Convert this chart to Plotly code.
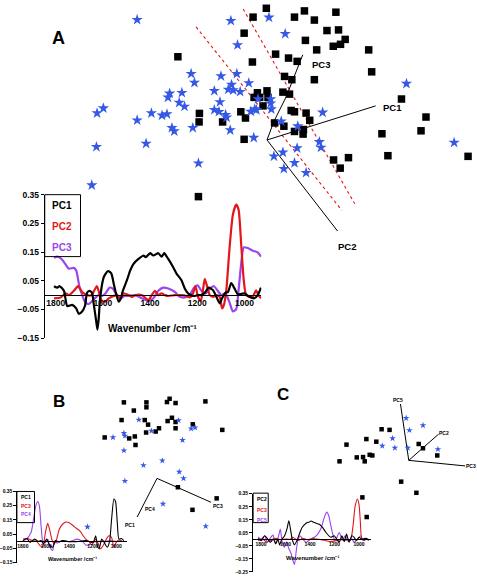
import plotly.graph_objects as go

W, H = 477, 581

# ---------------- Panel A scores (arbitrary PC units) ----------------
a_star_x = [-3.92,-1.09,0.06,0.55,-0.89,-2.29,-2.19,-1.39,-0.91,-0.55,-1.07,-1.17,-1.02,-0.81,-1.59,-2.94,-2.99,-2.57,-2.65,-2.49,
            -4.94,-5.13,-3.49,-3.17,-3.02,-3.92,-1.42,-1.59,-1.45,-1.25,-1.22,-2.87,-2.80,-2.24,-1.11,-0.37,-0.49,-0.32,0.11,0.13,
            0.11,0.43,0.93,1.68,4.21,-5.15,-3.65,-0.40,0.91,0.48,0.21,0.83,0.51,1.18,1.58,1.63,5.65,-2.07,-5.29,-0.27]
a_star_y = [3.67,3.64,3.74,3.24,2.90,2.02,1.75,1.95,2.02,1.74,1.69,1.54,1.52,1.47,1.50,1.42,1.30,1.44,1.14,1.02,
            0.97,0.82,0.82,0.75,0.79,0.60,1.16,0.92,0.86,0.77,0.69,0.37,0.27,0.37,0.30,0.94,0.87,0.92,1.12,0.94,
            1.25,0.57,0.42,0.84,1.72,-0.21,-0.11,0.07,-0.25,-0.38,-0.50,-0.70,-0.88,-1.00,-0.06,-0.23,-0.08,-0.71,-1.38,1.25]
a_sq_x = [-0.02,-0.42,0.83,1.13,1.43,2.08,-0.69,1.81,2.16,2.36,1.16,1.50,2.00,2.22,3.07,-2.69,0.26,0.65,-0.44,0.91,
          3.16,0.53,0.75,1.43,-0.29,0.00,-0.39,-0.22,0.03,-0.12,0.48,0.68,4.06,-2.04,-2.05,-1.34,-0.79,-0.65,0.73,0.83,
          1.18,1.29,0.23,0.51,4.80,0.83,1.10,1.09,4.65,3.47,-0.69,2.01,2.46,2.21,3.65,6.07,-2.07]
a_sq_y = [4.02,3.75,3.75,3.94,3.66,3.90,3.26,3.34,3.36,3.07,3.04,2.75,2.86,2.92,2.75,2.54,2.62,2.50,2.38,2.40,
          2.08,1.94,1.84,1.84,1.44,1.50,1.30,1.30,1.30,1.04,1.46,1.40,1.25,0.81,0.55,0.55,0.86,0.67,0.90,0.86,
          0.82,0.60,0.52,0.42,0.70,0.26,0.32,0.18,0.28,0.19,0.02,-0.61,-0.54,-0.86,-0.48,-0.50,-1.73]
a_pc1_axis = ([0, 3.28], [0, 1.04])
a_pc2_axis = ([0, 2.13], [0, -2.78])
a_pc3_axis = ([0, 0.21, 0.58, 1.08], [0, 0.57, 1.32, 2.60])
a_div1 = ([-2.14, 2.26], [3.45, -2.15])
a_div2 = ([-0.72, 2.65], [4.00, -1.95])

# ---------------- Panel A loadings ----------------
a_pc1_wn = [1807,1793,1783,1765,1751,1730,1713,1702,1688,1676,1667,1657,1646,1639,1629,1623,1618,1611,1596,1578,
            1564,1554,1545,1533,1522,1517,1498,1484,1470,1449,1428,1418,1400,1386,1365,1351,1340,1323,1302,1288,
            1267,1253,1239,1218,1196,1182,1168,1152,1133,1119,1105,1095,1081,1070,1056,1042,1028,1000,979,958,944,930]
a_pc1_val = [0.031,0.026,0.031,0.015,-0.038,-0.034,-0.046,-0.065,-0.057,-0.038,0.008,0.015,0.008,-0.029,-0.086,
             -0.120,-0.086,-0.006,0.063,0.084,0.075,0.040,0.008,-0.023,-0.008,0.011,0.052,0.086,0.109,0.126,
             0.138,0.132,0.146,0.138,0.146,0.134,0.146,0.126,0.097,0.075,0.052,0.023,0.006,-0.003,0.000,
             0.000,0.008,0.026,0.017,-0.006,-0.029,-0.011,0.008,0.011,0.042,0.023,0.003,0.006,-0.006,-0.011,0.000,0.026]
a_pc2_wn = [1807,1779,1758,1744,1723,1705,1688,1667,1648,1632,1625,1615,1604,1589,1575,1554,1540,1526,1512,1491,
            1477,1463,1435,1407,1393,1379,1365,1351,1337,1323,1295,1267,1246,1232,1218,1208,1196,1185,1175,1168,
            1157,1147,1133,1119,1105,1095,1087,1077,1063,1049,1035,1025,1014,1003,993,979,965,951,941,930]
a_pc2_val = [-0.011,-0.008,0.006,0.000,0.015,0.031,0.011,0.000,0.000,0.023,0.031,0.006,-0.020,-0.023,-0.011,
             -0.003,0.000,-0.011,0.006,0.000,-0.006,0.000,0.000,-0.017,0.000,0.015,0.000,0.006,0.000,-0.003,
             0.000,0.000,-0.003,-0.008,0.006,0.031,-0.008,-0.020,0.023,0.057,0.026,0.000,-0.006,0.000,-0.006,
             -0.046,-0.034,0.017,0.166,0.281,0.315,0.298,0.178,0.052,0.000,-0.006,-0.006,0.017,0.000,-0.011]
a_pc3_wn = [1807,1793,1775,1758,1744,1723,1713,1699,1685,1674,1660,1648,1634,1618,1604,1589,1572,1558,1545,1526,
            1508,1491,1463,1435,1407,1386,1365,1344,1323,1295,1274,1253,1232,1214,1199,1182,1165,1147,1129,1115,
            1098,1081,1063,1049,1035,1025,1014,1003,986,965,944,930]
a_pc3_val = [0.130,0.134,0.126,0.107,0.092,0.095,0.086,0.029,-0.006,-0.026,-0.031,-0.023,-0.011,0.000,-0.003,
             0.006,0.026,0.023,0.006,-0.011,-0.003,-0.003,0.000,-0.011,-0.020,-0.011,0.015,0.026,0.023,0.011,
             -0.006,-0.008,0.000,0.026,0.034,0.015,0.006,0.023,0.031,0.017,0.000,0.006,-0.026,-0.057,-0.049,
             0.017,0.109,0.166,0.164,0.155,0.149,0.134]

# ---------------- Panel B ----------------
b_sq_x = [-1.00,-0.32,-0.32,0.30,0.38,0.56,1.46,-0.70,-1.07,-0.37,-0.27,0.32,0.45,0.56,0.56,1.08,1.97,0.06,-0.04,-0.33,
          -1.58,-0.84,-0.67,-0.65,0.63,1.80,1.07]
b_sq_y = [2.32,2.32,2.17,2.33,2.43,2.30,2.35,2.07,1.78,1.78,1.64,1.75,1.85,1.72,1.53,1.65,1.48,1.53,1.43,1.40,
          1.25,1.22,1.28,1.02,-0.27,-0.61,-0.96]
b_star_x = [-0.55,0.65,-0.17,1.03,1.15,-1.00,-0.97,-1.33,0.77,-1.00,0.16,-0.41,0.67,0.80,-0.97,0.18,1.47,-2.10]
b_star_y = [1.79,1.77,1.45,1.52,1.55,1.38,1.30,1.25,1.17,0.85,0.54,0.40,0.20,0.00,-0.08,-0.78,-1.46,-1.48]
b_axes_x = [-0.60, 0, 1.63]
b_axes_y = [-1.18, 0, -0.73]

b_pc1_wn = [1800,1766,1738,1700,1670,1644,1624,1596,1573,1545,1522,1490,1460,1400,1340,1260,1198,1176,1162,1147,
            1125,1105,1077,1057,1040,1020,1006,991,977,955,935]
b_pc1_val = [0.005,0.020,-0.007,0.016,0.000,0.005,-0.018,0.016,-0.025,-0.041,0.005,-0.002,0.005,-0.002,-0.002,
             0.005,-0.007,0.039,-0.030,-0.053,0.016,-0.005,-0.041,0.000,0.154,0.297,0.280,0.131,0.016,0.020,0.005]
b_pc3_wn = [1800,1757,1720,1680,1653,1630,1607,1587,1568,1551,1530,1511,1488,1460,1431,1403,1374,1340,1312,1283,
            1261,1232,1210,1190,1176,1153,1134,1105,1085,1062,1040,1020,1000,972,949]
b_pc3_val = [0.016,0.020,0.005,-0.002,-0.030,-0.041,0.062,0.126,0.073,0.011,-0.018,0.016,0.085,0.120,0.136,
             0.131,0.113,0.090,0.073,0.039,0.016,-0.002,-0.025,0.000,0.016,-0.018,-0.053,-0.018,0.016,0.039,
             0.027,-0.041,-0.007,0.011,-0.002]
b_pc4_wn = [1800,1770,1730,1709,1687,1672,1658,1644,1630,1607,1587,1567,1545,1528,1502,1460,1403,1332,1290,1261,
            1232,1210,1180,1150,1100,1050,1000,950]
b_pc4_val = [0.005,0.016,0.062,0.154,0.257,0.280,0.246,0.108,0.005,-0.011,0.016,-0.041,-0.064,-0.007,-0.011,
             0.005,-0.002,0.016,0.000,-0.025,-0.025,-0.002,-0.002,0.000,0.000,0.005,0.000,0.005]

# ---------------- Panel C ----------------
c_sq_x = [-0.82,-0.58,-1.28,-0.98,-1.88,-1.18,-1.10,-1.57,-1.38,-1.33,-2.09,0.30,0.43,0.86,-0.23,0.23,-1.40,-1.27]
c_sq_y = [0.95,0.93,0.65,0.57,0.48,0.17,0.15,0.09,0.10,-0.03,-0.03,0.50,0.37,0.15,-0.65,-0.99,-1.13,-1.73]
c_star_x = [-0.08,0.43,0.02,-0.49,-0.80,-0.42,-0.03,0.88]
c_star_y = [1.29,1.07,0.92,0.67,0.44,0.38,0.38,0.34]
c_pc5_axis = ([0, -0.25], [0, 1.72])
c_pc2_axis = ([0, 0.90], [0, 0.80])
c_pc3_axis = ([0, 1.70], [0, -0.17])

c_pc2_wn = [1824,1798,1771,1750,1725,1700,1681,1662,1649,1630,1608,1589,1573,1560,1546,1527,1508,1487,1465,1432,
            1406,1392,1365,1324,1297,1270,1230,1203,1183,1162,1140,1121,1102,1081,1059,1040,1021,1000,975,951,924]
c_pc2_val = [0.007,-0.011,0.027,0.007,-0.023,0.002,-0.036,0.000,-0.043,0.000,0.027,0.078,0.141,0.078,0.002,
             -0.043,-0.011,0.040,0.090,0.123,0.133,0.140,0.128,0.115,0.090,0.052,0.015,0.027,0.002,-0.023,
             0.027,-0.018,0.040,-0.023,0.027,0.015,-0.011,0.015,0.000,0.007,-0.003]
c_pc3_wn = [1824,1787,1754,1720,1676,1640,1600,1560,1540,1500,1460,1420,1378,1351,1310,1270,1230,1189,1149,1108,
            1068,1049,1032,1013,1000,989,978,959,940,919]
c_pc3_val = [-0.011,0.002,-0.023,-0.005,0.007,-0.003,0.002,0.000,0.015,-0.010,0.007,-0.003,0.007,0.002,-0.003,
             -0.011,-0.018,-0.011,-0.003,-0.008,0.002,0.103,0.254,0.310,0.267,0.128,0.002,-0.010,0.002,-0.011]
c_pc5_wn = [1824,1800,1771,1750,1730,1703,1681,1660,1643,1627,1608,1590,1573,1554,1540,1527,1514,1500,1481,1460,
            1432,1410,1392,1365,1337,1311,1284,1264,1248,1230,1211,1195,1180,1162,1135,1113,1086,1059,1040,1013,
            986,965,940,919]
c_pc5_val = [0.015,0.002,0.027,-0.023,0.002,0.032,-0.028,0.015,0.078,-0.023,-0.061,-0.020,-0.073,-0.111,-0.162,
             -0.194,-0.100,-0.010,0.027,0.002,-0.023,-0.010,0.002,0.015,0.040,0.082,0.166,0.209,0.183,0.103,
             0.027,-0.011,0.015,0.052,-0.005,0.027,-0.018,0.002,-0.023,0.002,0.027,-0.010,0.007,-0.003]

wn_ticks = [1800, 1600, 1400, 1200, 1000]
y_ticks = [-0.15, -0.05, 0.05, 0.15, 0.25, 0.35]
y_ticks_c = [-0.25, -0.15, -0.05, 0.05, 0.15, 0.25, 0.35]

BLACK = "#000000"
RED = "#e3161b"
PURPLE = "#9a45ee"
BLUE = "#3559e6"
FONT = "Liberation Sans, Arial, sans-serif"


def fx(p):
    return p / W


def fy(p):
    return 1 - p / H


fig = go.Figure()


def scat(x, y, ax, symbol, size, color):
    fig.add_trace(go.Scatter(x=x, y=y, mode="markers", xaxis="x" + ax, yaxis="y" + ax,
                             marker=dict(symbol=symbol, size=size, color=color, line=dict(width=0)),
                             cliponaxis=False, showlegend=False, hoverinfo="skip"))


def seg(xy, ax, color=BLACK, width=1, dash=None):
    fig.add_trace(go.Scatter(x=xy[0], y=xy[1], mode="lines", xaxis="x" + ax, yaxis="y" + ax,
                             line=dict(color=color, width=width, dash=dash),
                             cliponaxis=False, showlegend=False, hoverinfo="skip"))


def spec(wn, val, ax, color, width):
    fig.add_trace(go.Scatter(x=wn, y=val, mode="lines", xaxis="x" + ax, yaxis="y" + ax,
                             line=dict(color=color, width=width, shape="spline", smoothing=0.6),
                             cliponaxis=False, showlegend=False, hoverinfo="skip"))


# Panel A scatter (axis id '')
seg(a_div1, "", RED, 1.1, "dot")
seg(a_div2, "", RED, 1.1, "dot")
seg(a_pc1_axis, "")
seg(a_pc2_axis, "")
seg(a_pc3_axis, "")
scat(a_sq_x, a_sq_y, "", "square", 7.5, BLACK)
scat(a_star_x, a_star_y, "", "star", 8.5, BLUE)

# Panel B scatter
seg((b_axes_x, b_axes_y), "2")
scat(b_sq_x, b_sq_y, "2", "square", 4.5, BLACK)
scat(b_star_x, b_star_y, "2", "star", 5, BLUE)

# Panel C scatter
seg(c_pc5_axis, "3")
seg(c_pc2_axis, "3")
seg(c_pc3_axis, "3")
scat(c_sq_x, c_sq_y, "3", "square", 4.5, BLACK)
scat(c_star_x, c_star_y, "3", "star", 5, BLUE)

# Insets
spec(a_pc3_wn, a_pc3_val, "4", PURPLE, 2.2)
spec(a_pc2_wn, a_pc2_val, "4", RED, 2.2)
spec(a_pc1_wn, a_pc1_val, "4", BLACK, 2.2)

spec(b_pc4_wn, b_pc4_val, "5", PURPLE, 1.1)
spec(b_pc3_wn, b_pc3_val, "5", RED, 1.1)
spec(b_pc1_wn, b_pc1_val, "5", BLACK, 1.1)

spec(c_pc5_wn, c_pc5_val, "6", PURPLE, 1.1)
spec(c_pc3_wn, c_pc3_val, "6", RED, 1.1)
spec(c_pc2_wn, c_pc2_val, "6", BLACK, 1.1)

hidden = dict(visible=False, showgrid=False, zeroline=False)


def ylab(v):
    return ("\u2212" if v < 0 else "") + f"{abs(v):.2f}"


def inset_axes(xdom, xrng, zero_py, ydom, yrng, yt, fs_x, fs_y, anchor):
    xa = dict(domain=xdom, range=xrng, anchor="free", position=fy(zero_py), showline=True,
              linecolor=BLACK, linewidth=1, ticks="", tickvals=wn_ticks, ticktext=[str(t) for t in wn_ticks],
              tickfont=dict(family=FONT, size=fs_x, color=BLACK, weight="bold"), showgrid=False, zeroline=False,
              ticklabelstandoff=0)
    ya = dict(domain=ydom, range=yrng, anchor=anchor, showline=True, linecolor=BLACK, linewidth=1,
              ticks="outside", ticklen=3, tickwidth=1, tickcolor=BLACK, tickvals=yt,
              ticktext=[ylab(v) for v in yt], tickfont=dict(family=FONT, size=fs_y, color=BLACK, weight="bold"),
              showgrid=False, zeroline=False)
    return xa, ya


xa4, ya4 = inset_axes([fx(42), fx(260)], [1846.3, 928.4], 295.2, [fy(339), fy(193)], [-0.15, 0.35],
                      y_ticks, 8.5, 8.5, "x4")
xa5, ya5 = inset_axes([fx(14.5), fx(125)], [1846.8, 906], 545.75, [fy(567.5), fy(495)], [-0.15, 0.35],
                      y_ticks, 5, 5, "x5")
xa6, ya6 = inset_axes([fx(251.7), fx(370)], [1864.9, 905], 543.6, [fy(576.7), fy(497.3)], [-0.25, 0.35],
                      y_ticks_c, 5, 5, "x6")

shapes = []
annotations = []


def box(x0, x1, y0, y1):
    shapes.append(dict(type="rect", xref="paper", yref="paper", x0=fx(x0), x1=fx(x1), y0=fy(y1), y1=fy(y0),
                       line=dict(color=BLACK, width=1), fillcolor="rgba(0,0,0,0)", layer="above"))


def txt(text, x, y, size, color=BLACK, xanchor="center", xref="paper", yref="paper"):
    if xref == "paper":
        x, y = fx(x), fy(y)
    annotations.append(dict(text="<b>" + text + "</b>", x=x, y=y, xref=xref, yref=yref, showarrow=False,
                            xanchor=xanchor, yanchor="middle", font=dict(family=FONT, size=size, color=color)))


# legends
box(42, 78, 193, 256)
txt("PC1", 47, 204, 10, BLACK, "left")
txt("PC2", 47, 225, 10, RED, "left")
txt("PC3", 47, 247, 10, PURPLE, "left")

box(14, 31.7, 495, 526.7)
txt("PC1", 16, 500.5, 5, BLACK, "left")
txt("PC3", 16, 509.5, 5, RED, "left")
txt("PC4", 16, 517.5, 5, PURPLE, "left")

box(251.7, 266.9, 496.7, 526.7)
txt("PC2", 253.5, 503, 5, BLACK, "left")
txt("PC3", 253.5, 514, 5, RED, "left")
txt("PC5", 253.5, 524, 5, PURPLE, "left")

# axis titles
txt("Wavenumber /cm\u207b\u00b9", 150, 329, 10)
txt("Wavenumber /cm\u207b\u00b9", 70, 563.5, 5.5)
txt("Wavenumber /cm\u207b\u00b9", 311.7, 562.7, 6)

# panel letters
txt("A", 56, 34, 18)
txt("B", 56, 403, 17)
txt("C", 281.7, 396, 17)

# PC labels in score plots
txt("PC1", 3.43, 0.99, 9.5, BLACK, "left", "x", "y")
txt("PC3", 1.31, 2.30, 9.5, BLACK, "left", "x", "y")
txt("PC2", 2.43, -3.25, 9.5, BLACK, "center", "x", "y")
txt("PC1", -0.83, -1.43, 5, BLACK, "center", "x2", "y2")
txt("PC4", -0.22, -0.93, 5, BLACK, "center", "x2", "y2")
txt("PC3", 1.83, -0.85, 5, BLACK, "center", "x2", "y2")
txt("PC5", -0.32, 1.85, 5, BLACK, "center", "x3", "y3")
txt("PC2", 1.07, 0.82, 5, BLACK, "center", "x3", "y3")
txt("PC3", 1.87, -0.18, 5, BLACK, "center", "x3", "y3")

fig.update_layout(
    width=W, height=H, margin=dict(l=0, r=0, t=0, b=0),
    paper_bgcolor="white", plot_bgcolor="rgba(0,0,0,0)", showlegend=False,
    xaxis=dict(domain=[0, 1], range=[-7.97, 6.34], **hidden),
    yaxis=dict(domain=[fy(260), 1], range=[-3.68, 4.12], **hidden),
    xaxis2=dict(domain=[0, fx(240)], range=[-4.65, 2.55], anchor="y2", **hidden),
    yaxis2=dict(domain=[fy(580), fy(380)], range=[-2.95, 3.05], anchor="x2", **hidden),
    xaxis3=dict(domain=[fx(230), 1], range=[-5.35, 2.06], anchor="y3", **hidden),
    yaxis3=dict(domain=[fy(580), fy(380)], range=[-3.5, 2.5], anchor="x3", **hidden),
    xaxis4=xa4, yaxis4=ya4, xaxis5=xa5, yaxis5=ya5, xaxis6=xa6, yaxis6=ya6,
    shapes=shapes, annotations=annotations,
)

fig.write_html("out.html", config={"displayModeBar": False},
               post_script="document.body.style.margin='0';document.body.style.overflow='hidden';")
